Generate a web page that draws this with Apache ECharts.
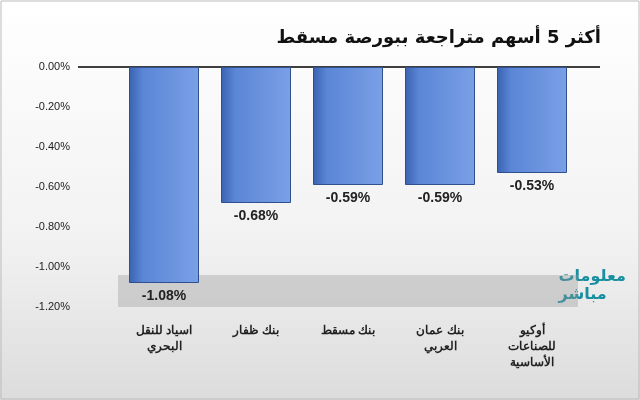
<!DOCTYPE html>
<html><head><meta charset="utf-8">
<script src="https://cdn.jsdelivr.net/npm/echarts@6/dist/echarts.min.js"></script>
<style>html,body{margin:0;padding:0}#c{width:640px;height:400px}</style>
</head><body><div id="c"></div>
<script>
const categories = ["اسياد للنقل\nالبحري", "بنك ظفار", "بنك مسقط", "بنك عمان\nالعربي", "أوكيو\nللصناعات\nالأساسية"];
const values = [-1.08, -0.68, -0.59, -0.59, -0.53];
const yTicks = {min: -1.2, max: 0, interval: 0.2};

const chart = echarts.init(document.getElementById('c'));
chart.setOption({
  backgroundColor: new echarts.graphic.LinearGradient(0,0,0,1,[{offset:0,color:'#ffffff'},{offset:0.6,color:'#f2f2f2'},{offset:1,color:'#dcdcdc'}]),
  title: {text: 'أكثر 5 أسهم متراجعة ببورصة مسقط', right: 34, top: 24,
    textStyle: {fontSize: 18, fontWeight: 'bold', color: '#111', fontFamily: 'DejaVu Sans'}},
  grid: {left: 118, right: 62, top: 67, bottom: 93},
  xAxis: {type: 'category', data: categories, position: 'bottom',
    axisLine: {show: false}, axisTick: {show: false},
    axisLabel: {fontSize: 12, fontWeight: 'bold', color: '#222', margin: 16, lineHeight: 16}},
  yAxis: {type: 'value', min: yTicks.min, max: yTicks.max, interval: yTicks.interval,
    axisLabel: {formatter: v => v.toFixed(2) + '%', fontSize: 11, color: '#222', margin: 48},
    splitLine: {show: false}, axisLine: {show: false}, axisTick: {show: false}},
  series: [{
    type: 'bar', data: values, barWidth: 70,
    itemStyle: {color: new echarts.graphic.LinearGradient(0,0,1,0,[{offset:0,color:'#3a62b0'},{offset:0.2,color:'#5b86d6'},{offset:1,color:'#7aa0e6'}]),
      borderColor: '#2f4f8f', borderWidth: 1},
    label: {show: true, position: 'bottom', formatter: p => p.value.toFixed(2) + '%',
      fontSize: 14, fontWeight: 'bold', color: '#222', distance: 6},
    markArea: {silent: true, itemStyle: {color: 'rgba(150,150,150,0.35)'},
      data: [[{yAxis: -1.2}, {yAxis: -1.04}]]}
  }],
  graphic: [
    {type: 'line', shape: {x1: 78, y1: 67, x2: 600, y2: 67}, style: {stroke: '#000', lineWidth: 1.5}},
    {type: 'rect', shape: {x: 1, y: 1, width: 638, height: 398}, style: {fill: 'none', stroke: '#bbb'}},
    {type: 'text', right: 14, top: 268,
    style: {text: 'معلومات\nمباشر', fill: '#1a8fa0', font: 'bold 16px "DejaVu Sans"', lineHeight: 18, align: 'center'}}]
});
</script></body></html>
